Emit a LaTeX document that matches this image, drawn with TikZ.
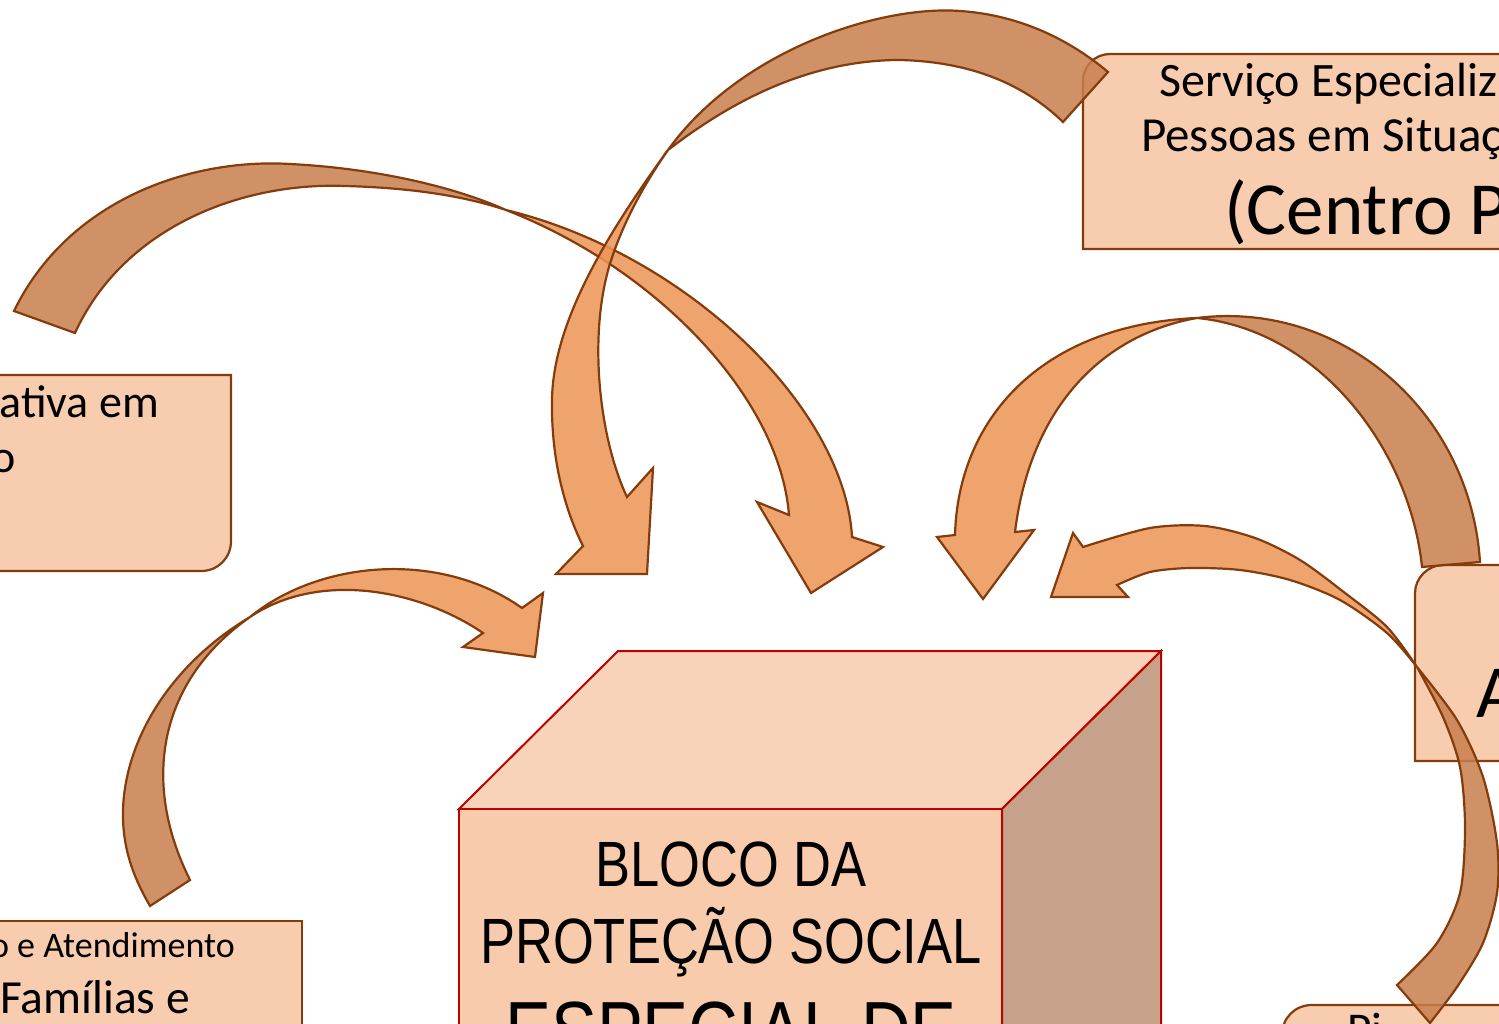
\documentclass[tikz,border=0pt]{standalone}
\usepackage{fontspec}
\setmainfont{Carlito}
\newfontfamily\narrowfont[FakeStretch=0.82]{Liberation Sans}
\definecolor{boxfill}{RGB}{248,204,174}
\definecolor{brownline}{RGB}{132,60,12}
\definecolor{alightc}{RGB}{238,149,84}
\definecolor{adarkc}{RGB}{200,126,77}
\definecolor{cubetop}{RGB}{248,211,185}
\definecolor{cubefront}{RGB}{247,203,172}
\definecolor{cubeside}{RGB}{198,162,138}
\definecolor{cubeedge}{RGB}{192,0,0}
\begin{document}
\begin{tikzpicture}[x=1pt,y=-1pt,
  boxstyle/.style={draw=brownline, line width=2.2pt, fill=boxfill},
  alight/.style={draw=brownline, line width=2.2pt, fill=alightc, fill opacity=0.85, line join=miter},
  adark/.style={draw=brownline, line width=2.2pt, fill=adarkc, fill opacity=0.85, line join=miter},
  cubeface/.style={draw=cubeedge, line width=2pt, line join=miter},
  lbl/.style={inner sep=0pt, text=black}]
\useasboundingbox (0,0) rectangle (1499,1024);
\fill[white] (0,0) rectangle (1499,1024);

% ---------- boxes ----------
\draw[boxstyle] (1600,249) -- (1083,249) -- (1083,81) .. controls (1083,66) and (1095,54) .. (1110,54) -- (1600,54) -- cycle;
\draw[boxstyle] (-10,375) -- (231,375) -- (231,541) .. controls (231,558) and (218,571) .. (201,571) -- (-10,571) -- cycle;
\draw[boxstyle] (-10,921) rectangle (302,1100);
\draw[boxstyle] (1600,761) -- (1415,761) -- (1415,593) .. controls (1415,578) and (1428,565) .. (1443,565) -- (1600,565) -- cycle;
\draw[boxstyle] (1600,1100) -- (1282,1100) -- (1282,1035) .. controls (1282,1018) and (1295,1005) .. (1312,1005) -- (1600,1005) -- cycle;

% ---------- cube ----------
\filldraw[cubeface, fill=cubetop] (459,809) -- (618,651) -- (1161,651) -- (1002,809) -- cycle;
\filldraw[cubeface, fill=cubeside] (1002,809) -- (1161,651) -- (1161,1100) -- (1002,1100) -- cycle;
\filldraw[cubeface, fill=cubefront] (459,809) rectangle (1002,1100);

% ---------- arrow A (left box -> cube) ----------
\filldraw[adark] (14,311) .. controls (68,200) and (190,158) .. (290,164)
  .. controls (370,168) and (450,185) .. (506,210)
  .. controls (470,198) and (420,188) .. (345,186)
  .. controls (240,182) and (123,228) .. (75,333) -- cycle;
\filldraw[alight] (506,210) .. controls (690,255) and (845,410) .. (852,537)
  -- (883,547) -- (811,593) -- (757,502) -- (789,515)
  .. controls (780,400) and (660,270) .. (506,210) -- cycle;

% ---------- arrow B (Centro Pop -> cube) ----------
\filldraw[adark] (668,150) .. controls (740,50) and (880,5) .. (960,11)
  .. controls (1020,15) and (1070,40) .. (1108,72) -- (1063,122)
  .. controls (1030,90) and (980,62) .. (900,60)
  .. controls (800,60) and (720,110) .. (668,150) -- cycle;
\filldraw[alight] (668,150) .. controls (610,230) and (553,320) .. (552,400)
  .. controls (551,460) and (565,510) .. (583,546)
  -- (556,574) -- (647,574) -- (653,468) -- (627,497)
  .. controls (600,440) and (588,340) .. (609,267)
  .. controls (620,230) and (640,190) .. (668,150) -- cycle;

% ---------- arrow C (box A -> cube) ----------
\filldraw[adark] (1197,318) .. controls (1340,300) and (1470,410) .. (1480,562)
  -- (1422,567) .. controls (1410,450) and (1320,330) .. (1197,318) -- cycle;
\filldraw[alight] (1197,318) .. controls (1040,325) and (958,420) .. (955,535)
  -- (937,537) -- (983,599) -- (1034,530) -- (1015,532)
  .. controls (1030,410) and (1100,335) .. (1197,318) -- cycle;

% ---------- arrow D (lower right box -> cube) ----------
\filldraw[adark] plot[smooth] coordinates {(1417,667) (1457,720) (1483,777) (1497,843) (1497,893) (1483,943) (1457,987) (1430,1023)}
  -- plot[smooth] coordinates {(1397,985) (1437,943) (1460,893) (1465,827) (1460,767) (1443,717) (1417,667)} -- cycle;
\filldraw[alight] plot[smooth] coordinates {(1417,667) (1387,627) (1345,593) (1300,560) (1255,538) (1205,526) (1150,528) (1083,547)}
  -- (1073,533) -- (1051,597) -- (1128,597) -- (1117,585)
  -- plot[smooth] coordinates {(1117,585) (1150,572) (1190,568) (1240,570) (1290,580) (1340,600) (1387,633) (1417,667)} -- cycle;

% ---------- arrow E (lower left box -> cube) ----------
\filldraw[adark] (250,617) .. controls (170,665) and (125,740) .. (123,810)
  .. controls (122,850) and (135,880) .. (150,906) -- (190,880)
  .. controls (140,780) and (160,680) .. (250,617) -- cycle;
\filldraw[alight] (250,617) .. controls (320,560) and (440,550) .. (522,608)
  -- (543,593) -- (535,657) -- (463,647) -- (483,633)
  .. controls (420,590) and (320,570) .. (250,617) -- cycle;

% ---------- texts ----------
\node[lbl, anchor=base west] (c1) at (1159,97) {\fontsize{48}{56}\selectfont Serviço Especializ};
\node[lbl, anchor=base west] (c2) at (1141,152) {\fontsize{49}{56}\selectfont Pessoas em Situaç};
\node[lbl, anchor=base west] (c3) at (1224,235) {\fontsize{75}{90}\selectfont (Centro P};

\node[lbl, anchor=base east] (l1) at (159,417) {\fontsize{46}{55}\selectfont ativa em};
\node[lbl, anchor=base east] (l2) at (16,472) {\fontsize{46}{55}\selectfont o};

\node[lbl, anchor=base east] (e1) at (235,957) {\fontsize{36}{44}\selectfont o e Atendimento};
\node[lbl, anchor=base east] (e2) at (190,1013) {\fontsize{47.5}{56}\selectfont Famílias e};

\node[lbl, anchor=base west] (a1) at (1476,717) {\fontsize{75}{90}\selectfont A};
\node[lbl, anchor=base west] (p1) at (1347,1045) {\fontsize{47}{56}\selectfont Pi};

\node[lbl, anchor=base] (b1) at (731,886) {\narrowfont\fontsize{64}{77}\selectfont BLOCO DA};
\node[lbl, anchor=base] (b2) at (731,963) {\narrowfont\fontsize{64}{77}\selectfont PROTEÇÃO SOCIAL};
\node[lbl, anchor=base] (b3) at (731,1060) {\narrowfont\fontsize{84}{100}\selectfont ESPECIAL DE};
\end{tikzpicture}
\end{document}
